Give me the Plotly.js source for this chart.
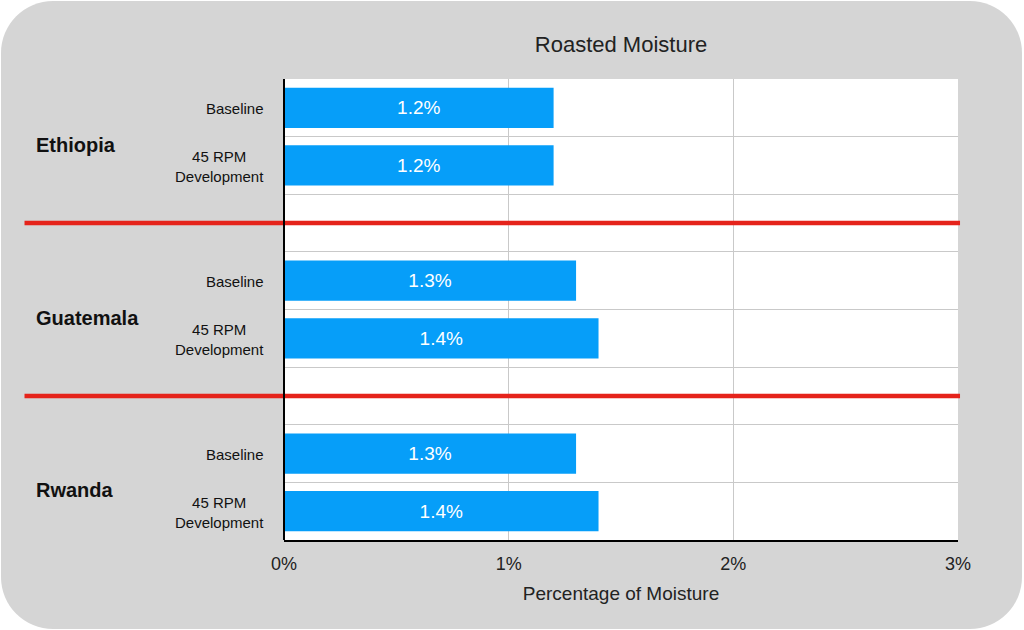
<!DOCTYPE html>
<html>
<head>
<meta charset="utf-8">
<script src="https://cdn.plot.ly/plotly-3.0.1.min.js"></script>
<style>
  html, body { margin: 0; padding: 0; background: #ffffff; }
  #wrap { position: absolute; left: 1px; top: 1px; width: 1021px; height: 628px;
          border-radius: 52px; background: #d5d5d5; overflow: hidden; }
  #chart { position: absolute; left: -1px; top: -1px; width: 1024px; height: 630px; }
</style>
</head>
<body>
<div id="wrap"><div id="chart"></div></div>
<script>
// Data
const countries = ["Ethiopia", "Guatemala", "Rwanda"];
const treatments = ["Baseline", "45 RPM<br>Development"];
const moisture = {
  Ethiopia:  [1.2, 1.2],
  Guatemala: [1.3, 1.4],
  Rwanda:    [1.3, 1.4]
};
const xTickVals = [0, 1, 2, 3];
const xTickText = ["0%", "1%", "2%", "3%"];

// Build rows: each country gets 2 rows, followed by an empty separator row
const yPos = [], xVals = [], labels = [], rowLabels = [], rowPos = [];
const sepRows = [], groupMid = [];
let row = 0;
countries.forEach((c, ci) => {
  const start = row;
  treatments.forEach((t, ti) => {
    yPos.push(row);
    xVals.push(moisture[c][ti]);
    labels.push(moisture[c][ti].toFixed(1) + "%");
    rowLabels.push(t);
    rowPos.push(row);
    row++;
  });
  groupMid.push({name: c, y: (start + row - 1) / 2});
  if (ci < countries.length - 1) { sepRows.push(row); row++; }
});
const nRows = row;
const boundaries = [];
for (let i = 0; i < nRows - 1; i++) boundaries.push(i + 0.5);

const FONT = "Liberation Sans, Arial, Helvetica, sans-serif";

const trace = {
  type: "bar",
  orientation: "h",
  x: xVals,
  y: yPos,
  width: 0.7,
  marker: { color: "#069ef9" },
  text: labels,
  textposition: "inside",
  insidetextanchor: "middle",
  textangle: 0,
  textfont: { color: "#ffffff", size: 19, family: FONT },
  hoverinfo: "none"
};

const annotations = [];
rowLabels.forEach((t, i) => {
  annotations.push({
    xref: "paper", yref: "y", x: -0.027, y: rowPos[i], yshift: -1,
    xanchor: "right", yanchor: "middle", align: "center",
    text: t, showarrow: false,
    font: { family: FONT, size: 15, color: "#111111" }
  });
});
groupMid.forEach(g => {
  annotations.push({
    xref: "paper", yref: "y", x: -0.371, y: g.y, yshift: -8,
    xanchor: "left", yanchor: "middle",
    text: "<b>" + g.name + "</b>", showarrow: false,
    font: { family: FONT, size: 20, color: "#111111" }
  });
});

const shapes = [];
sepRows.forEach(r => {
  shapes.push({
    type: "line", xref: "paper", yref: "y",
    x0: -0.385, x1: 1.003, y0: r, y1: r,
    line: { color: "#e5231b", width: 4.5 }
  });
});
// left axis line
shapes.push({ type: "line", xref: "paper", yref: "paper", x0: 0, x1: 0, y0: 0, y1: 1,
  line: { color: "#000000", width: 2 } });

const layout = {
  width: 1024, height: 630,
  margin: { l: 284, r: 66, t: 79, b: 90 },
  paper_bgcolor: "rgba(0,0,0,0)",
  plot_bgcolor: "#ffffff",
  showlegend: false,
  title: {
    text: "Roasted Moisture", xref: "paper", x: 0.5, xanchor: "center",
    yref: "container", y: 0.93, yanchor: "middle",
    font: { family: FONT, size: 22, color: "#222222" }
  },
  xaxis: {
    range: [0, 3], tickvals: xTickVals, ticktext: xTickText,
    showgrid: true, gridcolor: "#c9c9c9", gridwidth: 1,
    zeroline: false,
    showline: true, linecolor: "#000000", linewidth: 2,
    ticks: "outside", ticklen: 6, tickcolor: "rgba(0,0,0,0)",
    tickfont: { family: FONT, size: 18, color: "#222222" },
    title: { text: "Percentage of Moisture", standoff: 14,
             font: { family: FONT, size: 19, color: "#222222" } },
    fixedrange: true
  },
  yaxis: {
    range: [nRows - 0.5, -0.5],
    showticklabels: false, showgrid: false, zeroline: false, showline: false,
    ticks: "",
    minor: { tickmode: "array", tickvals: boundaries, showgrid: true,
             gridcolor: "#c9c9c9", gridwidth: 1, ticks: "" },
    fixedrange: true
  },
  shapes: shapes,
  annotations: annotations,
  bargap: 0.3
};

Plotly.newPlot("chart", [trace], layout, { displayModeBar: false, staticPlot: true });
</script>
</body>
</html>
